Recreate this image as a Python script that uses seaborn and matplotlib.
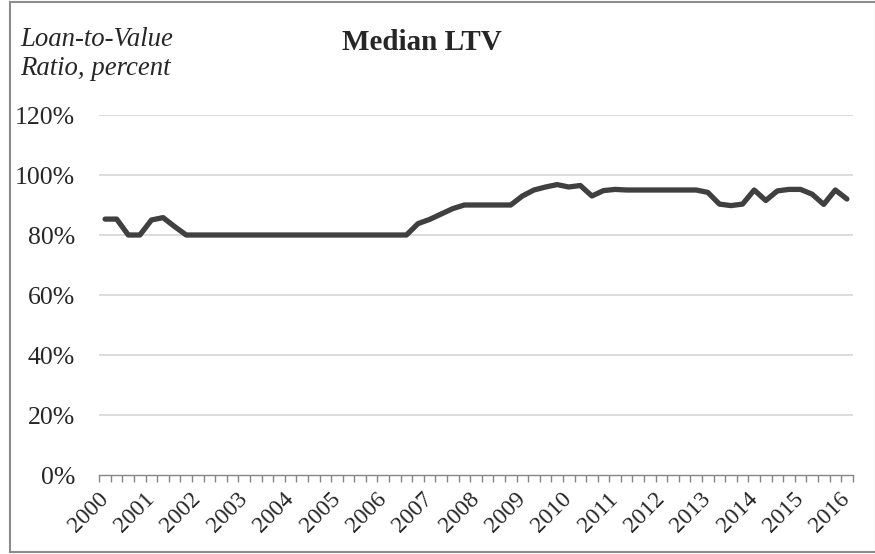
import matplotlib

matplotlib.use("Agg")

import matplotlib.pyplot as plt
import numpy as np
import pandas as pd
import seaborn as sns
from matplotlib.patches import Rectangle
from matplotlib.ticker import FixedLocator, PercentFormatter

# quarterly median LTV, 2000Q1 .. 2016Q1
quarters = [f"{year}Q{q}" for year in range(2000, 2017) for q in range(1, 5)][:65]
median_ltv = [
    85.3, 85.3, 80.0, 80.0, 85.0, 85.8, 82.8,
    80.0, 80.0, 80.0, 80.0, 80.0, 80.0, 80.0, 80.0, 80.0, 80.0,
    80.0, 80.0, 80.0, 80.0, 80.0, 80.0, 80.0, 80.0, 80.0, 80.0,
    83.8, 85.2, 87.0, 88.8,
    90.0, 90.0, 90.0, 90.0, 90.0,
    93.0, 95.0, 96.0, 96.8, 96.0, 96.5,
    93.0, 94.8,
    95.2, 95.0, 95.0, 95.0, 95.0, 95.0, 95.0, 95.0,
    94.2, 90.3, 89.8, 90.3, 95.0, 91.5, 94.7, 95.2, 95.2, 93.6, 90.2, 95.0, 92.0,
]
year_labels = [str(year) for year in range(2000, 2017)]
y_ticks = [0, 20, 40, 60, 80, 100, 120]

df = pd.DataFrame({"quarter": quarters, "ltv": median_ltv})
df["pos"] = np.arange(len(df))

sns.set_theme(style="white")
plt.rcParams["font.family"] = ["Liberation Serif", "DejaVu Serif"]

W, H = 875, 554
fig = plt.figure(figsize=(W / 100, H / 100), dpi=100)
ax = fig.add_axes([99.3 / W, (H - 475) / H, (852.7 - 99.3) / W, 360 / H])

sns.lineplot(
    data=df, x="pos", y="ltv", ax=ax, color="#404040", linewidth=3.8,
    solid_capstyle="round", solid_joinstyle="round",
)

ax.set_xlim(-0.5, len(df) - 0.5)
ax.set_ylim(0, 120)
ax.yaxis.set_major_locator(FixedLocator(y_ticks))
ax.yaxis.set_major_formatter(PercentFormatter(decimals=0))
for y in y_ticks[1:]:
    ax.axhline(y, color="#d9d9d9", linewidth=1.3, zorder=0)

ax.set_xticks(np.arange(0, len(df), 4))
ax.set_xticklabels(year_labels, rotation=45, ha="right", va="center",
                   rotation_mode="anchor", fontsize=17)
ax.set_xticks(np.arange(-0.5, len(df), 1), minor=True)
ax.tick_params(axis="x", which="both", bottom=True)
ax.tick_params(axis="x", which="major", length=0, pad=15)
ax.tick_params(axis="x", which="minor", direction="out", length=5,
               width=1, color="#868686")
ax.tick_params(axis="y", length=0, pad=17.5, labelsize=18.5)
ax.set_xlabel("")
ax.set_ylabel("")

for side in ["top", "right", "left"]:
    ax.spines[side].set_visible(False)
ax.spines["bottom"].set_color("#868686")
ax.spines["bottom"].set_linewidth(1.0)

fig.text(421.7 / W, 1 - 42 / H, "Median LTV", ha="center", va="center",
         fontsize=21, fontweight="bold")
fig.text(20 / W, 1 - 27 / H, "Loan-to-Value\nRatio, percent", ha="left", va="top",
         fontsize=19.3, fontstyle="italic", linespacing=1.2)

fig.patches.append(Rectangle((10 / W, 2 / H), (W - 9) / W, (H - 4) / H,
                             transform=fig.transFigure, fill=False,
                             edgecolor="#8c8c8c", linewidth=1.5))

fig.savefig("out.png", dpi=100)
